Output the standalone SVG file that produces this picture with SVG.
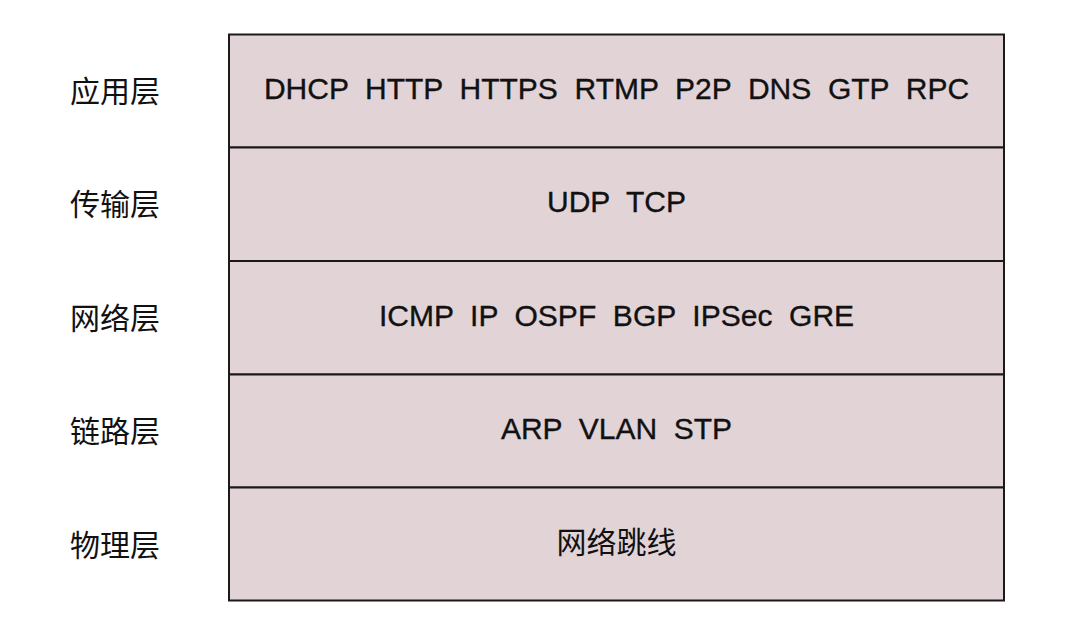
<svg xmlns="http://www.w3.org/2000/svg" width="1080" height="632" viewBox="0 0 1080 632">
<style>
.row{fill:#e2d3d7;stroke:#1a1a1a;stroke-width:2}
.t{font-family:"Liberation Sans",Arial,"Noto Sans CJK SC",sans-serif;font-size:30px;fill:#111;stroke:#111;stroke-width:0.35;text-anchor:middle;white-space:pre}
.l{font-family:"Noto Sans CJK SC","Liberation Sans",sans-serif;font-size:30px;fill:#111;text-anchor:middle}
</style>
<rect width="1080" height="632" fill="#ffffff"/>
<g id="app">
<rect class="row" x="229" y="34.5" width="775" height="113"/>
<text class="t" x="616.5" y="99" xml:space="preserve">DHCP  HTTP  HTTPS  RTMP  P2P  DNS  GTP  RPC</text>
<text class="l" x="115" y="101.5">应用层</text>
</g>
<g id="transport">
<rect class="row" x="229" y="147.5" width="775" height="113.5"/>
<text class="t" x="616.5" y="212" xml:space="preserve">UDP  TCP</text>
<text class="l" x="115" y="215">传输层</text>
</g>
<g id="network">
<rect class="row" x="229" y="261" width="775" height="113.5"/>
<text class="t" x="616.5" y="325.5" xml:space="preserve">ICMP  IP  OSPF  BGP  IPSec  GRE</text>
<text class="l" x="115" y="328.5">网络层</text>
</g>
<g id="link">
<rect class="row" x="229" y="374.5" width="775" height="113"/>
<text class="t" x="616.5" y="439" xml:space="preserve">ARP  VLAN  STP</text>
<text class="l" x="115" y="442">链路层</text>
</g>
<g id="physical">
<rect class="row" x="229" y="487.5" width="775" height="113"/>
<text class="l" x="616.5" y="553">网络跳线</text>
<text class="l" x="115" y="555.5">物理层</text>
</g>
<g id="connectors"></g>
</svg>
